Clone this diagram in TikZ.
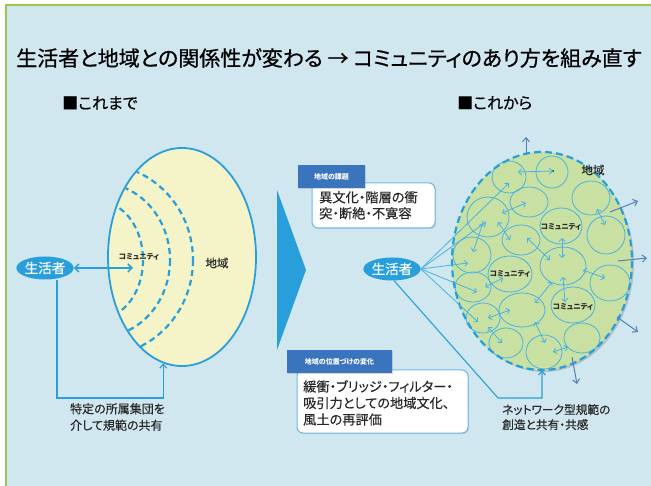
\documentclass[tikz,border=0pt]{standalone}
\usepackage{fontspec}
\setmainfont{Noto Sans CJK JP}[RawFeature=+palt]
\newfontfamily\titlefont{Noto Sans CJK JP}[RawFeature=+palt, FakeBold=0.7]
\newfontfamily\medfont{Noto Sans CJK JP}[RawFeature=+palt, FakeBold=0.3]
\usetikzlibrary{arrows.meta,shapes.geometric,shadows}
\definecolor{bgblue}{RGB}{208,231,240}
\definecolor{bordergreen}{RGB}{156,199,74}
\definecolor{mainblue}{RGB}{40,159,219}
\definecolor{yel}{RGB}{244,244,200}
\definecolor{greenfill}{RGB}{200,225,162}
\definecolor{circblue}{RGB}{74,178,227}
\definecolor{tabblue}{RGB}{58,116,188}
\definecolor{steel}{RGB}{85,125,185}
\definecolor{boxline}{RGB}{110,185,228}
\definecolor{txt}{RGB}{40,40,40}
\tikzset{
  fs/.style 2 args={font=\medfont\fontsize{#1}{#2}\selectfont},
  life/.style={ellipse, fill=mainblue, text=white, inner sep=0pt, minimum width=57pt, minimum height=23pt, font=\medfont\fontsize{13.5}{15}\selectfont},
  circ/.style={draw=circblue, line width=0.8pt},
  arr/.style={draw=circblue, line width=0.8pt, -{Straight Barb[length=3pt,width=6pt]}},
  dbl/.style={draw=circblue, line width=0.8pt, {Straight Barb[length=3pt,width=6pt]}-{Straight Barb[length=3pt,width=6pt]}},
  outarr/.style={draw=steel, line width=1pt, -{Straight Barb[length=4pt,width=7pt]}},
  tab/.style={fill=tabblue, text=white, inner sep=0pt, font=\fontsize{7}{8}\selectfont\bfseries},
  wbox/.style={fill=white, draw=boxline, line width=1pt, rounded corners=6pt, drop shadow={shadow xshift=1pt, shadow yshift=-1pt, opacity=0.25}},
  commtxt/.style={font=\fontsize{7.5}{9}\selectfont\bfseries, text=txt, inner sep=0pt},
}
\begin{document}
\begin{tikzpicture}[x=1pt,y=-1pt]
\useasboundingbox (0,0) rectangle (651,486);
\fill[white] (0,0) rectangle (651,486);
\fill[bgblue] (6,5) rectangle (651,486);
\draw[bordergreen, line width=2.5pt] (6,486) -- (6,5) -- (651,5);

% title and headings
\node[font=\titlefont\fontsize{21}{25}\selectfont, text=black, inner sep=0pt] (title) at (329,58) {生活者と地域との関係性が変わる → コミュニティのあり方を組み直す};
\node[fs={16}{19}, anchor=west, inner sep=0pt] (before) at (62,103) {■これまで};
\node[fs={16}{19}, anchor=west, inner sep=0pt] (after) at (457,103) {■これから};

% ---------- left diagram ----------
\node[ellipse, fill=yel, draw=mainblue, line width=1.8pt, minimum width=148pt, minimum height=218pt] (regionL) at (182,257) {};
\begin{scope}
  \clip (182,257) ellipse [x radius=73, y radius=108];
  \draw[mainblue, line width=2.2pt, dash pattern=on 6pt off 4pt] (100,260) ellipse [x radius=43, y radius=58];
  \draw[mainblue, line width=2.2pt, dash pattern=on 6pt off 4pt] (100,260) ellipse [x radius=70, y radius=77];
  \draw[mainblue, line width=2.2pt, dash pattern=on 6pt off 4pt] (100,260) ellipse [x radius=93, y radius=96];
\end{scope}
\node[commtxt] (commL) at (139,257) {コミュニティ};
\node[fs={11.5}{13}, text=txt, inner sep=0pt] (chiikiL) at (217,263) {地域};
\node[life] (lifeL) at (45,268) {生活者};
\coordinate (commPt) at (133,268);
\draw[mainblue, line width=1.5pt, {Straight Barb[length=4pt,width=8pt]}-{Straight Barb[length=4pt,width=8pt]}] (lifeL.east) -- (commPt);
\coordinate (cornerL) at (57,398);
\draw[mainblue, line width=1.1pt, -{Straight Barb[length=4pt,width=7pt]}] (lifeL.south -| cornerL) -- (cornerL) -| (regionL.-100);
\node[fs={12}{16.5}, text=txt, anchor=north west, align=left, inner sep=0pt] (normL) at (70,403) {特定の所属集団を\\介して規範の共有};

% ---------- big arrow ----------
\fill[mainblue] (277,190) -- (306,270) -- (277,350) -- cycle;

% ---------- info boxes ----------
\draw[wbox] (312,183) rectangle (435,228);
\node[tab, minimum width=67pt, minimum height=23pt, drop shadow={shadow xshift=1pt, shadow yshift=-1pt, opacity=0.3}] (tab1) at (331.5,176.5) {地域の課題};
\node[fs={13.2}{16}, text=txt, anchor=north west, align=left, inner sep=0pt] (issue) at (319,191) {異文化・階層の衝\\突・断絶・不寛容};

\draw[wbox] (297,370) rectangle (468,433);
\node[tab, minimum width=105pt, minimum height=23pt, drop shadow={shadow xshift=1pt, shadow yshift=-1pt, opacity=0.3}] (tab2) at (339.5,361.5) {地域の位置づけの変化};
\node[fs={13.2}{16.5}, text=txt, anchor=north west, align=left, inner sep=0pt] (change) at (303,380) {緩衝・ブリッジ・フィルター・\\吸引力としての地域文化、\\風土の再評価};

% ---------- right diagram ----------
\node[ellipse, fill=greenfill, minimum width=180pt, minimum height=218pt, drop shadow={shadow xshift=2pt, shadow yshift=-2pt, opacity=0.35}] (regionR) at (542,261) {};
\foreach \x/\y/\rx/\ry in {
  509/177/17/16, 552/172/16/16, 529/202/19/15, 488/217/21/20, 591/198/19/17,
  561/226/21/18, 606/235/19/19, 521/240/19/15, 472/255/19/18, 510/274/22/18,
  563/266/23/19, 610/283/20/18, 473/287/18/15, 522/310/23/17, 573/305/22/18,
  483/318/17/15, 506/343/17/15, 544/352/18/17, 582/338/18/15}
  \draw[circ] (\x,\y) ellipse [x radius=\rx, y radius=\ry];
\draw[mainblue, line width=2.2pt, dash pattern=on 7pt off 4pt] (542,261) ellipse [x radius=90, y radius=109];

\node[fs={11.5}{13}, text=txt, inner sep=0pt] (chiikiR) at (593,170) {地域};
\node[commtxt] (comm1) at (561,227) {コミュニティ};
\node[commtxt] (comm2) at (510,274) {コミュニティ};
\node[commtxt] (comm3) at (573,307) {コミュニティ};

% inner double arrows
\fill[txt] (553,171) circle (1.2pt);
\foreach \ax/\ay/\bx/\by in {
  518/172/553/171, 502/213/526/203, 498/222/510/240, 483/223/473/252,
  527/238/550/260, 562/238/562/258, 597/209/605/225, 583/270/605/278,
  563/277/565/302, 535/303/552/282, 485/287/503/278, 488/318/510/310,
  488/327/502/343, 535/322/545/343, 553/352/568/347}
  \draw[dbl] (\ax,\ay) -- (\bx,\by);

% outward arrows
\foreach \ax/\ay/\bx/\by in {
  526/153/526/137, 610/212/638/201, 618/261/647/258, 617/317/638/332, 572/357/577/384}
  \draw[outarr] (\ax,\ay) -- (\bx,\by);

\node[life] (lifeR) at (392,269) {生活者};
\foreach \tx/\ty in {509/183, 486/222, 468/263, 477/292, 478/322}
  \draw[arr] (lifeR.east) -- (\tx,\ty);
\coordinate (cornerR) at (498,398);
\draw[mainblue, line width=1.1pt, -{Straight Barb[length=4pt,width=7pt]}] (lifeR.-80) -- (cornerR) -| (regionR.south);
\node[fs={11.7}{15}, text=txt, anchor=north west, align=left, inner sep=0pt] (normR) at (502,404) {ネットワーク型規範の\\創造と共有・共感};
\end{tikzpicture}
\end{document}
